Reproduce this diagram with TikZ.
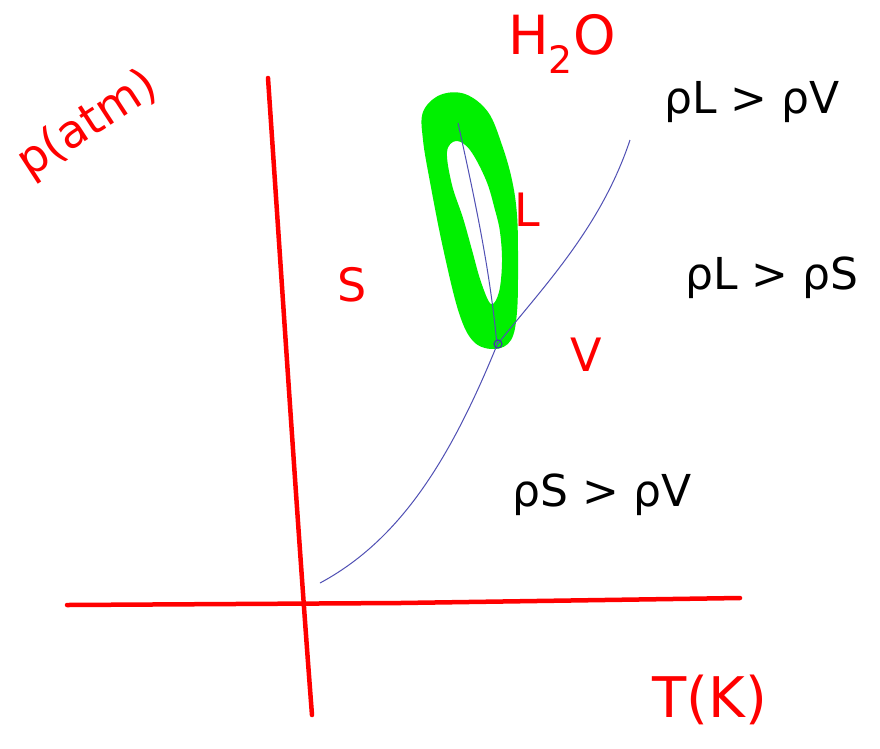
\documentclass[tikz,border=0pt]{standalone}
\usepackage{fontspec}
\setmainfont{DejaVu Sans}
\definecolor{ringgreen}{RGB}{0,240,0}
\definecolor{curveblue}{RGB}{80,80,180}
\definecolor{dotblue}{RGB}{60,60,160}
\begin{document}
\begin{tikzpicture}[x=1pt,y=-1pt,
  axis/.style={draw=red, line width=4.5pt, line cap=round},
  curve/.style={draw=curveblue, line width=1pt},
  redlbl/.style={text=red, font=\fontsize{46}{50}\selectfont, inner sep=0pt},
  blklbl/.style={text=black, font=\fontsize{44}{48}\selectfont, inner sep=0pt}]
\useasboundingbox (0,0) rectangle (880,748);
\fill[white] (0,0) rectangle (880,748);
% axes
\draw[axis] (268,78) .. controls (285,330) and (300,560) .. (312,715);
\draw[axis] (67,605) -- (400,603) -- (740,598);
% green ring
\fill[ringgreen, even odd rule]
  plot[smooth cycle, tension=0.6] coordinates {(423,112) (440,95) (465,94) (488,112) (502,145) (512,180) (517,215) (518,260) (517,312) (511,340) (495,349) (474,342) (459,313) (443,248) (430,182) (423,140)}
  plot[smooth cycle, tension=0.6] coordinates {(456,141) (447,152) (452,185) (463,218) (472,250) (481,282) (491,304) (499,292) (502,262) (500,232) (495,210) (486,180) (470,150)};
% blue curves
\draw[curve] (320,583) .. controls (400,540) and (450,460) .. (497,345)
  .. controls (540,290) and (600,230) .. (630,140);
\draw[curve] (458,123) .. controls (475,200) and (490,270) .. (497,345);
\node[draw=dotblue, circle, inner sep=0pt, minimum size=8pt, line width=1.2pt] (tp) at (498,344) {};
% labels
\node[redlbl, rotate=33] (p) at (88,125) {p(atm)};
\node[redlbl, font=\fontsize{54}{58}\selectfont] (h2o) at (562,44) {H\textsubscript{2}O};
\node[redlbl] (L) at (527,210) {L};
\node[redlbl] (S) at (352,285) {S};
\node[redlbl] (V) at (586,355) {V};
\node[redlbl, font=\fontsize{56}{60}\selectfont] (T) at (710,700) {T(K)};
\node[blklbl] (r1) at (752,102) {ρL > ρV};
\node[blklbl] (r2) at (772,278) {ρL > ρS};
\node[blklbl] (r3) at (602,495) {ρS > ρV};
\end{tikzpicture}
\end{document}
